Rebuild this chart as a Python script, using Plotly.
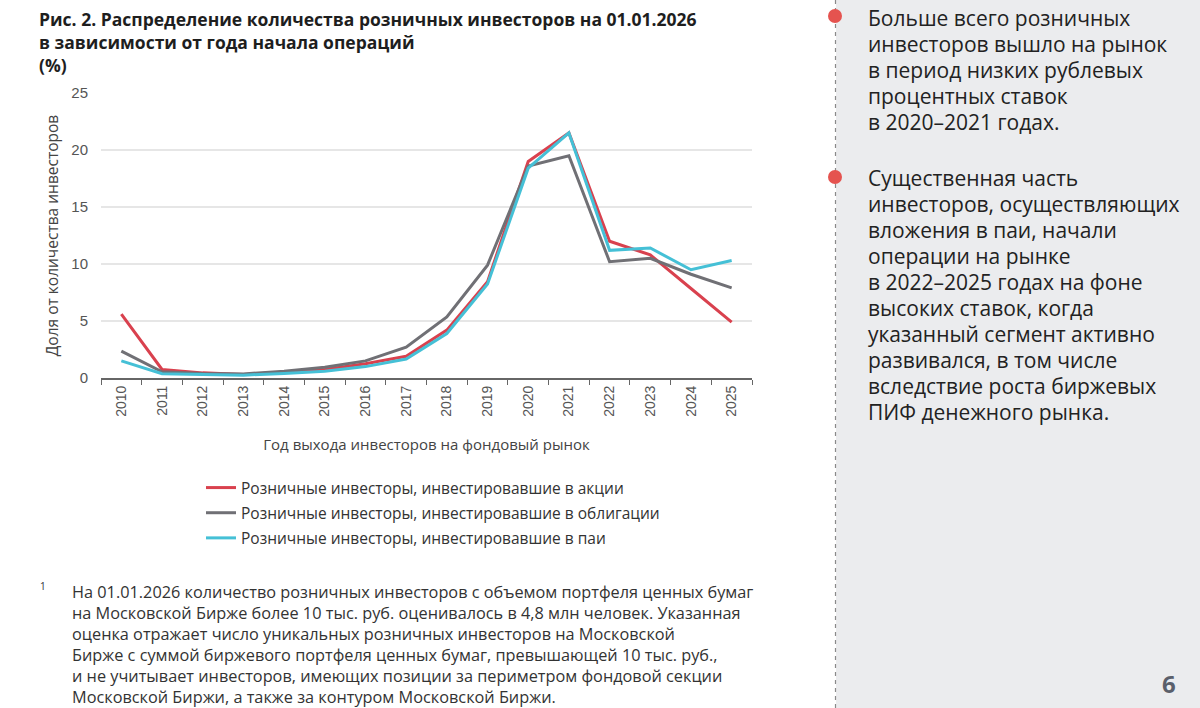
import plotly.graph_objects as go

years = [str(y) for y in range(2010, 2026)]
shares = [5.6, 0.75, 0.45, 0.3, 0.5, 0.75, 1.25, 1.9, 4.2, 8.45, 19.0, 21.5, 12.0, 10.8, 7.85, 4.9]
bonds = [2.35, 0.55, 0.4, 0.35, 0.6, 0.95, 1.5, 2.7, 5.35, 9.9, 18.6, 19.5, 10.2, 10.5, 9.1, 7.9]
funds = [1.5, 0.38, 0.3, 0.25, 0.4, 0.6, 1.0, 1.67, 3.9, 8.25, 18.4, 21.5, 11.2, 11.4, 9.5, 10.3]

series_names = [
    "Розничные инвесторы, инвестировавшие в акции",
    "Розничные инвесторы, инвестировавшие в облигации",
    "Розничные инвесторы, инвестировавшие в паи",
]
series_colors = ["#d9414e", "#707075", "#45c0d6"]

title_text = ("<b>Рис. 2. Распределение количества розничных инвесторов на 01.01.2026<br>"
              "в зависимости от года начала операций<br>(%)</b>")
x_title = "Год выхода инвесторов на фондовый рынок"
y_title = "Доля от количества инвесторов"
footnote_lines = [
    "На 01.01.2026 количество розничных инвесторов с объемом портфеля ценных бумаг",
    "на Московской Бирже более 10 тыс. руб. оценивалось в 4,8 млн человек. Указанная",
    "оценка отражает число уникальных розничных инвесторов на Московской",
    "Бирже с суммой биржевого портфеля ценных бумаг, превышающей 10 тыс. руб.,",
    "и не учитывает инвесторов, имеющих позиции за периметром фондовой секции",
    "Московской Биржи, а также за контуром Московской Биржи.",
]
side_1 = ["Больше всего розничных", "инвесторов вышло на рынок", "в период низких рублевых",
          "процентных ставок", "в 2020–2021 годах."]
side_2 = ["Существенная часть", "инвесторов, осуществляющих", "вложения в паи, начали",
          "операции на рынке", "в 2022–2025 годах на фоне", "высоких ставок, когда",
          "указанный сегмент активно", "развивался, в том числе",
          "вследствие роста биржевых", "ПИФ денежного рынка."]

W, H = 1200, 708
FONT = "Open Sans"


def px(x):
    return x / W


def py(y):
    return 1 - y / H


fig = go.Figure()
for name, vals, col in zip(series_names, [shares, bonds, funds], series_colors):
    fig.add_trace(go.Scatter(x=years, y=vals, mode="lines", name=name, legendgroup=name,
                             line=dict(color=col, width=3)))

fig.update_layout(
    width=W, height=H,
    margin=dict(l=0, r=0, t=0, b=0),
    paper_bgcolor="white", plot_bgcolor="white",
    font=dict(family=FONT, color="#444", size=13),
    showlegend=True,
    legend=dict(x=px(201), y=py(471), xanchor="left", yanchor="top",
                font=dict(family=FONT, size=15.5, color="#333"),
                tracegroupgap=2, bgcolor="rgba(0,0,0,0)"),
    xaxis=dict(domain=[px(101), px(752)], type="category", tickangle=-90,
               range=[-0.5, len(years) - 0.5],
               showline=True, linecolor="#666", linewidth=2,
               ticks="outside", tickson="boundaries", ticklen=5, tickcolor="#666",
               tickfont=dict(family="Liberation Sans", size=14, color="#555"),
               showgrid=False, automargin=False,
               title=dict(text=x_title, standoff=24,
                          font=dict(family=FONT, size=15, color="#444"))),
    yaxis=dict(domain=[py(378), py(93)], range=[0, 25], dtick=5,
               showgrid=True, gridcolor="#e6e6e6", gridwidth=1.5, zeroline=False,
               showline=False, ticks="", ticklabelstandoff=12,
               tickfont=dict(family="Liberation Sans", size=15, color="#555"),
               automargin=False,
               title=dict(text=y_title, standoff=8,
                          font=dict(family=FONT, size=15.5, color="#444"))),
)

# right panel background and dashed divider
fig.add_shape(type="rect", xref="paper", yref="paper", x0=px(836), x1=1, y0=0, y1=1,
              fillcolor="#ebecee", line=dict(width=0), layer="below")
fig.add_shape(type="line", xref="paper", yref="paper", x0=px(835.5), x1=px(835.5), y0=0, y1=1,
              line=dict(color="#8a8a8a", width=1.2, dash="4px,4px"))
for cy in [16, 177]:
    fig.add_shape(type="circle", xref="paper", yref="paper",
                  x0=px(828), x1=px(842), y0=py(cy + 7), y1=py(cy - 7),
                  fillcolor="#e5534f", line=dict(width=0))

# title
fig.add_annotation(x=px(37), y=py(5), xref="paper", yref="paper", xanchor="left", yanchor="top",
                   text=title_text, showarrow=False, align="left",
                   font=dict(family=FONT, size=17.5, color="#1e1e1e"))

# footnote
fig.add_annotation(x=px(38), y=py(586), xref="paper", yref="paper", xanchor="left", yanchor="middle",
                   text="1", showarrow=False, font=dict(family=FONT, size=10, color="#333"))
for i, line in enumerate(footnote_lines):
    fig.add_annotation(x=px(70), y=py(592 + 21 * i), xref="paper", yref="paper",
                       xanchor="left", yanchor="middle", text=line, showarrow=False,
                       font=dict(family=FONT, size=16.3, color="#333"))

# side texts
for block, y0 in [(side_1, 18), (side_2, 178)]:
    for i, line in enumerate(block):
        fig.add_annotation(x=px(866), y=py(y0 + 26 * i), xref="paper", yref="paper",
                           xanchor="left", yanchor="middle", text=line, showarrow=False,
                           font=dict(family=FONT, size=21, color="#222"))

# page number
fig.add_annotation(x=px(1178), y=py(702), xref="paper", yref="paper", xanchor="right", yanchor="bottom",
                   text="<b>6</b>", showarrow=False,
                   font=dict(family=FONT, size=24, color="#5a5f6b"))

fig.write_html("out.html")
